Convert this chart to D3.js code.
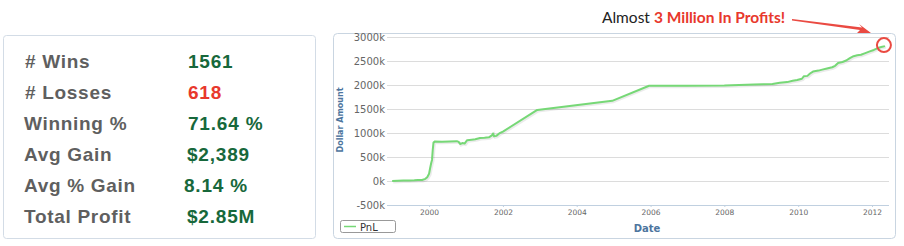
<!DOCTYPE html>
<html>
<head>
<meta charset="utf-8">
<script src="https://cdn.jsdelivr.net/npm/d3@7"></script>
<style>
  body { margin: 0; background: #fff; }
  svg { display: block; }
</style>
</head>
<body>
<script>
// stats panel
var statLabels = ['# Wins', '# Losses', 'Winning %', 'Avg Gain', 'Avg % Gain', 'Total Profit'];
var statValues = ['1561', '618', '71.64 %', '$2,389', '8.14 %', '$2.85M'];
var statColors = ['#17683b', '#e8382c', '#17683b', '#17683b', '#17683b', '#17683b'];

// PnL series (fractional years, thousands of dollars)
var years = [1999.00, 1999.15, 1999.30, 1999.45, 1999.60, 1999.70, 1999.81, 1999.90, 1999.95,
  2000.00, 2000.03, 2000.06, 2000.08, 2000.10, 2000.12, 2000.16, 2000.35, 2000.55, 2000.75,
  2000.80, 2000.84, 2000.90, 2000.96, 2001.03, 2001.15, 2001.25, 2001.38, 2001.50, 2001.62,
  2001.70, 2001.73, 2001.76, 2001.82, 2001.90, 2002.00, 2002.93, 2004.96, 2005.96, 2007.00,
  2008.00, 2008.80, 2009.30, 2009.50, 2009.70, 2009.85, 2009.97, 2010.10, 2010.15, 2010.25,
  2010.32, 2010.40, 2010.55, 2010.65, 2010.78, 2010.92, 2011.00, 2011.08, 2011.20, 2011.30,
  2011.40, 2011.50, 2011.60, 2011.70, 2011.80, 2011.94, 2012.05, 2012.16, 2012.25, 2012.35];
var pnl = [0, 5, 8, 12, 15, 20, 22, 45, 80,
  150, 270, 380, 440, 650, 800, 825, 820, 825, 830,
  815, 770, 790, 780, 850, 860, 870, 895, 900, 910,
  950, 990, 930, 940, 990, 1030, 1480, 1670, 1985, 1985,
  1990, 2010, 2020, 2045, 2060, 2090, 2105, 2130, 2180, 2190,
  2240, 2280, 2300, 2320, 2345, 2370, 2400, 2460, 2480, 2510,
  2560, 2600, 2620, 2630, 2660, 2700, 2730, 2770, 2790, 2810];

var yTicks = [-500, 0, 500, 1000, 1500, 2000, 2500, 3000];
var xTickYears = [2000, 2002, 2004, 2006, 2008, 2010, 2012];

function fy(y) {
  var yr = Math.floor(y);
  var a = new Date(yr, 0, 1), b = new Date(yr + 1, 0, 1);
  return new Date(+a + (y - yr) * (b - a));
}

var width = 904, height = 246;
var svg = d3.select('body').append('svg')
  .attr('width', width)
  .attr('height', height);

// ---- left stats box
svg.append('rect')
  .attr('x', 3.5).attr('y', 35.5)
  .attr('width', 312).attr('height', 203)
  .attr('rx', 3)
  .attr('fill', '#fff')
  .attr('stroke', '#d3dce6');

var rowY = [67.5, 98.5, 129.5, 160.5, 192, 222.5];
var labelX = [25, 25, 24, 24, 24, 24];
var valueX = [188, 188, 188, 187, 184, 187];

svg.selectAll('.slabel').data(statLabels).enter().append('text')
  .attr('x', function(d, i) { return labelX[i]; })
  .attr('y', function(d, i) { return rowY[i]; })
  .style('font-family', 'Liberation Sans, Arial, sans-serif')
  .style('font-weight', 'bold')
  .style('font-size', '19px')
  .style('letter-spacing', '0.7px')
  .style('fill', '#5f5f5f')
  .text(function(d) { return d; });

svg.selectAll('.svalue').data(statValues).enter().append('text')
  .attr('x', function(d, i) { return valueX[i]; })
  .attr('y', function(d, i) { return rowY[i]; })
  .style('font-family', 'Liberation Sans, Arial, sans-serif')
  .style('font-weight', 'bold')
  .style('font-size', '19px')
  .style('letter-spacing', '0.8px')
  .style('fill', function(d, i) { return statColors[i]; })
  .text(function(d) { return d; });

// ---- chart box
svg.append('rect')
  .attr('x', 333.5).attr('y', 33.5)
  .attr('width', 562).attr('height', 205)
  .attr('rx', 4)
  .attr('fill', '#fff')
  .attr('stroke', '#c9d5e1');

var x = d3.scaleTime()
  .domain([fy(1998.86), fy(2012.46)])
  .range([387, 889]);
var y = d3.scaleLinear()
  .domain([-500, 3000])
  .range([205, 37]);

// grid lines
svg.append('g')
  .attr('transform', 'translate(387,0)')
  .call(d3.axisLeft(y).tickValues(yTicks.slice(1)).tickSize(-502).tickFormat(''))
  .call(function(g) { g.select('.domain').remove(); })
  .selectAll('line').attr('stroke', '#dcdcdc');

// y labels
svg.append('g')
  .attr('transform', 'translate(387,0)')
  .call(d3.axisLeft(y).tickValues(yTicks).tickSize(0).tickPadding(2)
    .tickFormat(function(d) { return d + 'k'; }))
  .call(function(g) { g.select('.domain').remove(); })
  .selectAll('text')
  .style('font-family', 'DejaVu Sans, sans-serif')
  .style('font-size', '10px')
  .style('fill', '#666');

// x axis
var xa = svg.append('g')
  .attr('transform', 'translate(0,' + y(-500) + ')')
  .call(d3.axisBottom(x).tickValues(xTickYears.map(function(d) { return fy(d); }))
    .tickSize(2).tickPadding(3).tickFormat(d3.timeFormat('%Y')));
xa.select('.domain').attr('stroke', '#c0d0e0').attr('d', 'M387,0.5H889');
xa.selectAll('line').attr('stroke', '#c0d0e0');
xa.selectAll('text')
  .style('font-family', 'DejaVu Sans, sans-serif')
  .style('font-size', '7.5px')
  .style('fill', '#666');

// axis titles
svg.append('text')
  .attr('transform', 'translate(343,120) rotate(-90)')
  .attr('text-anchor', 'middle')
  .style('font-family', 'DejaVu Sans, sans-serif')
  .style('font-weight', 'bold')
  .style('font-size', '8px')
  .style('fill', '#4d759e')
  .text('Dollar Amount');

svg.append('text')
  .attr('x', 647).attr('y', 232)
  .attr('text-anchor', 'middle')
  .style('font-family', 'DejaVu Sans, sans-serif')
  .style('font-weight', 'bold')
  .style('font-size', '10px')
  .style('fill', '#4d759e')
  .text('Date');

// series
var pts = years.map(function(d, i) { return [fy(d), pnl[i]]; });
var line = d3.line()
  .x(function(d) { return x(d[0]); })
  .y(function(d) { return y(d[1]); });

svg.append('path')
  .datum(pts)
  .attr('d', line)
  .attr('transform', 'translate(1,1)')
  .attr('fill', 'none')
  .attr('stroke', '#000')
  .attr('stroke-opacity', 0.08)
  .attr('stroke-width', 3);

svg.append('path')
  .datum(pts)
  .attr('d', line)
  .attr('fill', 'none')
  .attr('stroke', '#76d876')
  .attr('stroke-width', 2)
  .attr('stroke-linejoin', 'round');

// legend
svg.append('rect')
  .attr('x', 340.5).attr('y', 220.5)
  .attr('width', 55).attr('height', 12)
  .attr('rx', 2)
  .attr('fill', '#fff')
  .attr('stroke', '#999');
svg.append('line')
  .attr('x1', 344).attr('x2', 356)
  .attr('y1', 226.5).attr('y2', 226.5)
  .attr('stroke', '#76d876')
  .attr('stroke-width', 1.5);
svg.append('text')
  .attr('x', 360).attr('y', 230.5)
  .style('font-family', 'DejaVu Sans, sans-serif')
  .style('font-size', '10px')
  .style('fill', '#333')
  .text('PnL');

// annotation
var last = pts[pts.length - 1];
svg.append('circle')
  .attr('cx', x(last[0]) - 1)
  .attr('cy', y(last[1]) - 1)
  .attr('r', 7)
  .attr('fill', 'none')
  .attr('stroke', '#ea4a42')
  .attr('stroke-width', 2);

svg.append('path')
  .attr('d', 'M792,19 L862,27.5 L859,24 L871,33 L857,33 L860,30 L792,20.5 Z')
  .attr('fill', '#ea4a42');

var note = svg.append('text')
  .attr('x', 602).attr('y', 22.5)
  .style('font-family', 'Lato, sans-serif')
  .style('font-size', '15.5px');
note.append('tspan')
  .style('fill', '#222')
  .text('Almost ');
note.append('tspan')
  .style('fill', '#e8382c')
  .style('font-weight', 'bold')
  .text('3 Million In Profits!');
</script>
</body>
</html>
